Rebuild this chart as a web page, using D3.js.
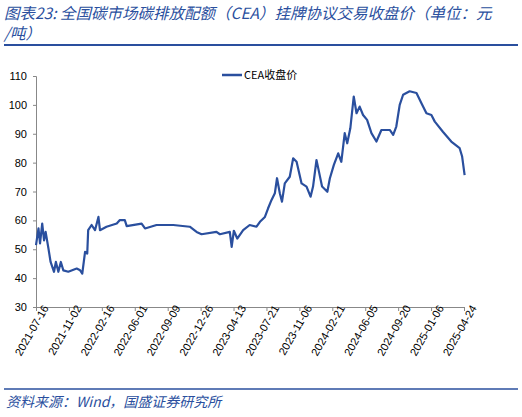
<!DOCTYPE html><html><head><meta charset="utf-8"><script src="https://cdn.jsdelivr.net/npm/d3@7"></script>
<style>body{margin:0;background:#fff}</style></head><body><svg id="c" width="522" height="417"></svg>
<script>
const startDate="2021-07-16";
const tickLabels=["2021-07-16","2021-11-02","2022-02-16","2022-06-01","2022-09-09","2022-12-26","2023-04-13","2023-07-21","2023-11-06","2024-02-21","2024-06-05","2024-09-20","2025-01-06","2025-04-24"];
const dayOffsets=[0,8,13,20,26,31,40,47,58,64,72,80,88,104,131,142,149,158,165,168,179,190,201,206,227,260,270,286,292,340,351,388,442,495,517,533,581,592,624,630,637,648,667,688,710,721,737,747,758,769,776,785,792,801,817,828,839,855,871,884,892,903,910,921,938,946,959,973,983,994,1002,1012,1023,1032,1042,1053,1066,1080,1096,1112,1139,1150,1160,1171,1182,1203,1225,1241,1257,1273,1284,1310,1337,1364,1372,1380];
const prices=[51.4,57.2,52,58.9,53.1,56,50.3,45.6,42.2,45.6,42.2,45.6,42.7,42.2,43.3,42.7,41.6,49.1,48.5,56.6,58.4,56.6,61.2,56.6,57.8,58.9,60.1,60.1,58,58.9,57.2,58.4,58.4,57.8,56,55.2,56,55.2,56,50.8,56.4,53.7,56.6,58.4,57.8,59.5,61.2,64.1,67,69.4,74.6,69.4,66.5,72.8,75.1,81.5,80.3,72.8,71.7,68.2,71.7,80.9,77.4,71.7,69.9,74.5,79.2,83.2,80.3,90.2,86.7,91.9,102.9,97.1,99.4,96.5,94.8,90.2,87.3,91.3,91.3,89.6,92.5,100,103.5,104.7,104.1,100.6,97.1,96.5,94.2,90.7,87.3,85,82.1,75.7];
const yTicks=[30,40,50,60,70,80,90,100,110];
const seriesName="CEA收盘价";
const blue="#2a4f9e";
const svg=d3.select("#c");
const font="'Noto Sans CJK SC','Noto Sans',sans-serif";
svg.append("text").attr("x",4).attr("y",19).attr("fill",blue).attr("font-family",font).attr("font-style","italic").attr("font-size",15.5)
 .text("图表23:  全国碳市场碳排放配额（CEA）挂牌协议交易收盘价（单位：元");
svg.append("text").attr("x",4).attr("y",39).attr("fill",blue).attr("font-family",font).attr("font-style","italic").attr("font-size",15.5).text("/吨）");
svg.append("line").attr("x1",4).attr("x2",518).attr("y1",45).attr("y2",45).attr("stroke",blue).attr("stroke-width",2);
const totalDays=1378;
const x=d3.scaleLinear().domain([0,totalDays]).range([36,464]);
const y=d3.scaleLinear().domain([30,110]).range([307,76]);
const g=svg.append("g").attr("font-family","'Liberation Sans',Arial,sans-serif");
g.append("g").attr("transform","translate(36,0)").call(d3.axisLeft(y).tickValues(yTicks).tickSize(3).tickPadding(6))
 .call(a=>{a.selectAll("text").attr("font-size",11).attr("fill","#000");a.selectAll("line,path").attr("stroke","#888");});
const tickPos=tickLabels.map((d,i)=>i*totalDays/(tickLabels.length-1));
const xa=g.append("g").attr("transform","translate(0,307)").call(d3.axisBottom(x).tickValues(tickPos).tickFormat((d,i)=>tickLabels[i]).tickSize(4).tickSizeOuter(0));
xa.selectAll("line,path").attr("stroke","#888");
xa.selectAll("text").attr("font-size",11).attr("fill","#000").attr("text-anchor","end").attr("dx","0.5em").attr("dy","0.4em").attr("transform","rotate(-60)");
const line=d3.line().x((d,i)=>x(dayOffsets[i])).y(d=>y(d));
svg.append("path").datum(prices).attr("d",line).attr("fill","none").attr("stroke",blue).attr("stroke-width",2.2).attr("stroke-linejoin","round");
svg.append("line").attr("x1",222).attr("x2",242).attr("y1",75).attr("y2",75).attr("stroke",blue).attr("stroke-width",2.5);
svg.append("text").attr("x",244).attr("y",79).attr("font-size",11).attr("font-family",font).text(seriesName);
svg.append("line").attr("x1",4).attr("x2",518).attr("y1",389).attr("y2",389).attr("stroke",blue).attr("stroke-width",1.5);
svg.append("text").attr("x",6).attr("y",407).attr("fill",blue).attr("font-family",font).attr("font-style","italic").attr("font-size",14).text("资料来源：Wind，国盛证券研究所");
</script></body></html>
